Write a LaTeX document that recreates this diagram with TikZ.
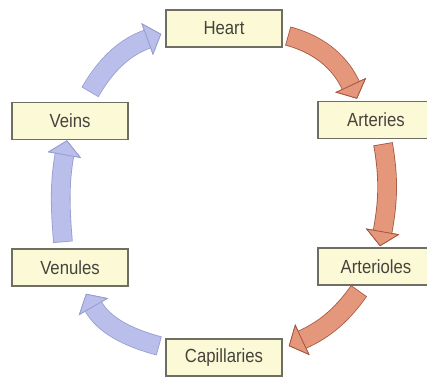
\documentclass[tikz,border=0pt]{standalone}
\usepackage{fontspec}
\newfontfamily\organfont{Liberation Sans}[FakeStretch=0.88]
\usetikzlibrary{arrows.meta}
\definecolor{circBox}{HTML}{FBF9D6}
\definecolor{circLine}{HTML}{6E6E62}
\definecolor{circText}{HTML}{44443C}
\definecolor{artFill}{HTML}{E4977A}
\definecolor{artEdge}{HTML}{A4573E}
\definecolor{venFill}{HTML}{B9BFEA}
\definecolor{venEdge}{HTML}{979DD0}
\tikzset{
  organ/.style={draw=circLine, fill=circBox, line width=1.6pt,
              minimum width=116pt, minimum height=37pt, inner sep=2pt,
              text=circText, font=\organfont\fontsize{19}{22}\selectfont},
  artery/.style={draw=artFill, line width=18pt, shorten <=0.8pt,
              -{Triangle[length=15pt,width=34pt,line width=0.8pt,color=artEdge,fill=artFill]},
              preaction={draw=artEdge, line width=19.6pt, shorten <=0pt,
                         -{Triangle[length=15pt,width=34pt,line width=0.8pt]}}},
  vein/.style={draw=venFill, line width=18pt, shorten <=0.8pt,
              -{Triangle[length=15pt,width=34pt,line width=0.8pt,color=venEdge,fill=venFill]},
              preaction={draw=venEdge, line width=19.6pt, shorten <=0pt,
                         -{Triangle[length=15pt,width=34pt,line width=0.8pt]}}},
}
\begin{document}
\begin{tikzpicture}[x=1pt,y=1pt]
  \useasboundingbox (0,0) rectangle (427,377);
  \node[organ] (heart)       at (224,348.5) {Heart};
  \node[organ] (arteries)    at (376,257)   {Arteries};
  \node[organ] (arterioles)  at (376,110.5) {Arterioles};
  \node[organ] (capillaries) at (224,19.5)  {Capillaries};
  \node[organ] (venules)     at (70,109.5)  {Venules};
  \node[organ] (veins)       at (70,256)    {Veins};
  % oxygenated side
  \draw[artery] ([shift={(5pt,-7.5pt)}]heart.east) to[out=-15,in=115]
                ([shift={(-19pt,2pt)}]arteries.north);
  \draw[artery] ([shift={(7pt,-4.5pt)}]arteries.south) to[out=-80,in=80]
                ([shift={(4pt,1pt)}]arterioles.north);
  \draw[artery] ([shift={(-17pt,-5pt)}]arterioles.south) to[out=-125,in=25]
                ([shift={(6pt,11.5pt)}]capillaries.east);
  % return side
  \draw[vein] ([shift={(-6pt,11.5pt)}]capillaries.west) to[out=165,in=-60]
              ([shift={(16pt,-7pt)}]venules.south);
  \draw[vein] ([shift={(-7pt,6pt)}]venules.north) to[out=95,in=-100]
              ([shift={(-3pt,0pt)}]veins.south);
  \draw[vein] ([shift={(20pt,9.5pt)}]veins.north) to[out=60,in=200]
              ([shift={(-4pt,-5.5pt)}]heart.west);
\end{tikzpicture}
\end{document}
